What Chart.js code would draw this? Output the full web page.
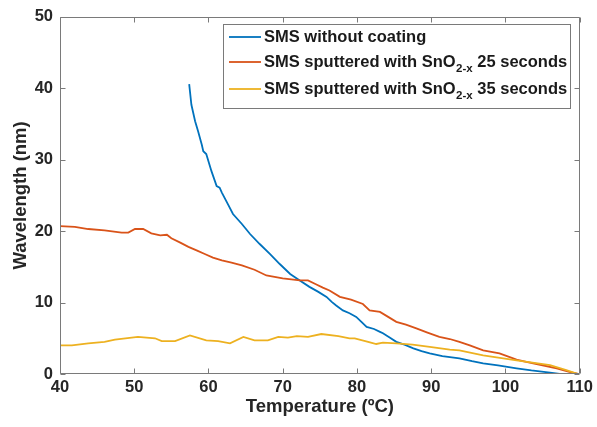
<!DOCTYPE html>
<html>
<head>
<meta charset="utf-8">
<script src="https://cdn.jsdelivr.net/npm/chart.js@4/dist/chart.umd.min.js"></script>
<style>
html,body{margin:0;padding:0;background:#fff;}
#wrap{width:597px;height:427px;position:relative;}
</style>
</head>
<body>
<div id="wrap"><canvas id="c" width="597" height="427"></canvas></div>
<script>
// ---- data ----
const blueT = [57.4, 57.7, 58.2, 58.6, 59.1, 59.3, 59.7, 60.4, 61.1, 61.5, 61.8, 62.4, 62.7, 63.3, 64.5, 65.6, 66.9, 68.3, 69.6, 71.0, 72.3, 73.6, 74.8, 75.9, 76.6, 77.2, 78.1, 79.0, 79.9, 80.6, 81.3, 82.3, 83.1, 83.5, 84.4, 85.3, 86.4, 87.6, 88.7, 89.8, 91.5, 93.8, 95.5, 97.0, 99.0, 101.5, 103.5, 106.0, 107.3];
const blueV = [40.6, 37.7, 35.4, 34.0, 32.1, 31.2, 30.8, 28.4, 26.3, 26.1, 25.4, 24.2, 23.6, 22.4, 21.0, 19.6, 18.2, 16.8, 15.4, 14.0, 13.1, 12.2, 11.5, 10.8, 10.1, 9.6, 8.9, 8.5, 8.0, 7.3, 6.6, 6.3, 5.9, 5.7, 5.1, 4.5, 4.1, 3.6, 3.2, 2.9, 2.5, 2.2, 1.8, 1.5, 1.2, 0.8, 0.5, 0.2, 0.0];

const redT = [40.0, 42.0, 43.8, 46.0, 48.3, 49.2, 50.1, 51.2, 52.3, 53.5, 54.4, 55.0, 56.2, 57.3, 58.4, 59.5, 60.6, 61.8, 63.1, 64.5, 66.2, 67.8, 70.0, 72.3, 73.4, 74.4, 75.4, 76.3, 77.7, 79.2, 80.8, 81.7, 83.1, 84.2, 85.3, 86.6, 88.0, 89.5, 91.1, 92.5, 93.8, 95.2, 97.0, 99.2, 101.5, 102.8, 104.2, 106.9, 108.6, 109.8];
const redV = [20.7, 20.6, 20.3, 20.1, 19.8, 19.8, 20.3, 20.3, 19.7, 19.4, 19.5, 19.0, 18.4, 17.8, 17.3, 16.8, 16.3, 15.9, 15.6, 15.2, 14.6, 13.8, 13.4, 13.1, 13.1, 12.6, 12.1, 11.7, 10.8, 10.4, 9.8, 8.9, 8.7, 8.0, 7.3, 6.9, 6.4, 5.8, 5.2, 4.9, 4.5, 4.0, 3.3, 2.9, 2.0, 1.7, 1.4, 0.8, 0.3, 0.0];

const yellowT = [40.0, 41.6, 43.8, 46.0, 47.4, 50.5, 52.8, 53.7, 55.5, 57.5, 59.7, 61.3, 62.9, 64.7, 66.2, 68.0, 69.4, 70.7, 71.9, 73.4, 75.2, 77.5, 79.0, 79.7, 81.5, 82.6, 83.5, 85.3, 87.5, 89.8, 92.5, 93.8, 97.0, 101.5, 106.0, 108.2, 109.8];
const yellowV = [4.0, 4.0, 4.3, 4.5, 4.8, 5.2, 5.0, 4.6, 4.6, 5.4, 4.7, 4.6, 4.3, 5.2, 4.7, 4.7, 5.2, 5.1, 5.3, 5.2, 5.6, 5.3, 5.0, 5.0, 4.5, 4.2, 4.4, 4.3, 4.1, 3.8, 3.4, 3.3, 2.6, 1.9, 1.25, 0.55, 0.0];

const xTicks = [40, 50, 60, 70, 80, 90, 100, 110];
const yTicks = [0, 10, 20, 30, 40, 50];
const legendMain = ['SMS without coating', 'SMS sputtered with SnO', 'SMS sputtered with SnO'];
const legendSub = ['', '2-x', '2-x'];
const legendTail = ['', ' 25 seconds', ' 35 seconds'];
const xTitle = 'Temperature (ºC)';
const yTitle = 'Wavelength (nm)';

const colors = ['#0072BD', '#D95319', '#EDB120'];
const FONT = '"Liberation Sans", Arial, Helvetica, sans-serif';

function pts(t, v) { return t.map((x, i) => ({x: x, y: v[i]})); }

const boxPlugin = {
  id: 'boxTicks',
  afterDraw(chart) {
    const {ctx, chartArea: a, scales: {x, y}} = chart;
    ctx.save();
    ctx.strokeStyle = '#7a7a7a';
    ctx.lineWidth = 1;
    const L = Math.round(a.left) + 0.5, R = Math.round(a.right) - 0.5;
    const T = Math.round(a.top) + 0.5, B = Math.round(a.bottom) - 0.5;
    ctx.beginPath();
    ctx.moveTo(L, T); ctx.lineTo(R, T); ctx.lineTo(R, B); ctx.lineTo(L, B); ctx.closePath();
    const tl = 5;
    xTicks.forEach(v => {
      const p = Math.round(x.getPixelForValue(v)) + 0.5;
      ctx.moveTo(p, B); ctx.lineTo(p, B - tl);
      ctx.moveTo(p, T); ctx.lineTo(p, T + tl);
    });
    yTicks.forEach(v => {
      const p = Math.round(y.getPixelForValue(v)) + 0.5;
      ctx.moveTo(L, p); ctx.lineTo(L + tl, p);
      ctx.moveTo(R, p); ctx.lineTo(R - tl, p);
    });
    ctx.stroke();

    // legend
    const lx = 223.5, ly = 24.5, lw = 347, lh = 84;
    ctx.fillStyle = '#ffffff';
    ctx.fillRect(lx, ly, lw, lh);
    ctx.strokeStyle = '#7a7a7a';
    ctx.strokeRect(lx, ly, lw, lh);
    const rows = [37, 62, 89];
    for (let i = 0; i < 3; i++) {
      const ry = rows[i];
      ctx.strokeStyle = colors[i];
      ctx.lineWidth = 1.8;
      ctx.beginPath();
      ctx.moveTo(229, ry); ctx.lineTo(261, ry);
      ctx.stroke();
      ctx.fillStyle = '#1a1a1a';
      ctx.textBaseline = 'middle';
      ctx.textAlign = 'left';
      ctx.font = 'bold 16.5px ' + FONT;
      let tx = 264;
      ctx.fillText(legendMain[i], tx, ry);
      tx += ctx.measureText(legendMain[i]).width;
      if (legendSub[i]) {
        ctx.font = 'bold 11.5px ' + FONT;
        ctx.fillText(legendSub[i], tx + 0.5, ry + 7);
        tx += ctx.measureText(legendSub[i]).width + 0.5;
        ctx.font = 'bold 16.5px ' + FONT;
        ctx.fillText(legendTail[i], tx, ry);
      }
    }
    ctx.restore();
  }
};

new Chart(document.getElementById('c'), {
  type: 'scatter',
  data: {
    datasets: [
      {label: 'SMS without coating', data: pts(blueT, blueV), borderColor: colors[0], order: 3},
      {label: 'SMS sputtered with SnO2-x 25 seconds', data: pts(redT, redV), borderColor: colors[1], order: 2},
      {label: 'SMS sputtered with SnO2-x 35 seconds', data: pts(yellowT, yellowV), borderColor: colors[2], order: 1}
    ].map(d => Object.assign(d, {showLine: true, pointRadius: 0, borderWidth: 1.8, tension: 0, fill: false}))
  },
  options: {
    responsive: false,
    animation: false,
    devicePixelRatio: 1,
    layout: {padding: {left: 0, right: 17, top: 15, bottom: 0}},
    plugins: {legend: {display: false}, tooltip: {enabled: false}},
    scales: {
      x: {
        type: 'linear', min: 40, max: 110,
        afterFit(s) { s.height = 53; },
        afterBuildTicks(s) { s.ticks = xTicks.map(v => ({value: v})); },
        grid: {display: false, drawTicks: false},
        border: {display: false},
        ticks: {padding: 4, color: '#262626', font: {family: FONT, size: 16.5, weight: 'bold'}, maxRotation: 0},
        title: {display: true, text: xTitle, color: '#262626', padding: {top: 0, bottom: 9}, font: {family: FONT, size: 18.5, weight: 'bold'}}
      },
      y: {
        type: 'linear', min: 0, max: 50,
        afterFit(s) { s.width = 60; },
        afterBuildTicks(s) { s.ticks = yTicks.map(v => ({value: v})); },
        grid: {display: false, drawTicks: false},
        border: {display: false},
        ticks: {padding: 7, color: '#262626', font: {family: FONT, size: 16.5, weight: 'bold'}},
        title: {display: true, text: yTitle, color: '#262626', padding: {top: 10, bottom: 0}, font: {family: FONT, size: 18.5, weight: 'bold'}}
      }
    }
  },
  plugins: [boxPlugin]
});
</script>
</body>
</html>
